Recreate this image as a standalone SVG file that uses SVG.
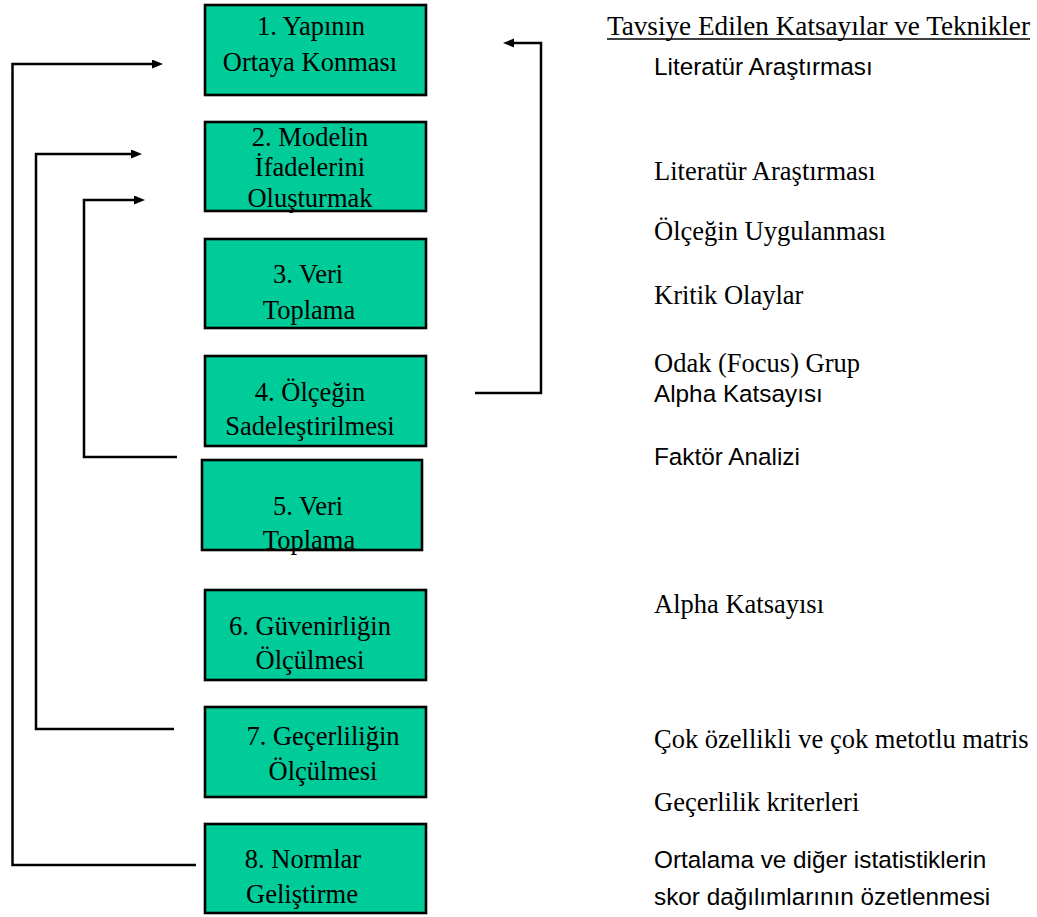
<svg xmlns="http://www.w3.org/2000/svg" width="1037" height="917" viewBox="0 0 1037 917">
<defs>
<style>
.box{fill:#00cc99;stroke:#000;stroke-width:2.6}
.bt{font-family:"Liberation Serif","Times New Roman",serif;font-size:26.5px;fill:#000;text-anchor:middle}
.rs{font-family:"Liberation Serif","Times New Roman",serif;font-size:26.5px;fill:#000}
.rc{font-family:"Liberation Sans",Arial,sans-serif;font-size:24.3px;fill:#000}
.con{fill:none;stroke:#000;stroke-width:2.5}
</style>
<marker id="arr" markerUnits="userSpaceOnUse" markerWidth="12" markerHeight="10" refX="5" refY="4.5" orient="auto">
<path d="M0,0 L11,4.5 L0,9 z" fill="#000"/>
</marker>
</defs>
<rect width="1037" height="917" fill="#fff"/>
<g id="connectors">
<polyline class="con" points="196,865 12.5,865 12.5,64 157,64" marker-end="url(#arr)"/>
<polyline class="con" points="174,729 36,729 36,154 136,154" marker-end="url(#arr)"/>
<polyline class="con" points="177,457 84,457 84,200 139,200" marker-end="url(#arr)"/>
<polyline class="con" points="475,393 541,393 541,43 509,43" marker-end="url(#arr)"/>
</g>
<g id="node1"><rect class="box" x="205" y="5" width="221" height="90"/>
<text class="bt" x="311" y="35">1. Yapının</text><text class="bt" x="310" y="71">Ortaya Konması</text></g>
<g id="node2"><rect class="box" x="205" y="122" width="221" height="89"/>
<text class="bt" x="310" y="146">2. Modelin</text><text class="bt" x="310" y="176">İfadelerini</text><text class="bt" x="310" y="207">Oluşturmak</text></g>
<g id="node3"><rect class="box" x="205" y="239" width="221" height="89"/>
<text class="bt" x="308" y="283">3. Veri</text><text class="bt" x="309" y="319">Toplama</text></g>
<g id="node4"><rect class="box" x="205" y="356" width="221" height="90"/>
<text class="bt" x="310" y="401">4. Ölçeğin</text><text class="bt" x="310" y="435">Sadeleştirilmesi</text></g>
<g id="node5"><rect class="box" x="202" y="460" width="220" height="90"/>
<text class="bt" x="308" y="515">5. Veri</text><text class="bt" x="309" y="549">Toplama</text></g>
<g id="node6"><rect class="box" x="205" y="590" width="221" height="90"/>
<text class="bt" x="310" y="635">6. Güvenirliğin</text><text class="bt" x="310" y="669">Ölçülmesi</text></g>
<g id="node7"><rect class="box" x="205" y="707" width="221" height="90"/>
<text class="bt" x="323" y="745">7. Geçerliliğin</text><text class="bt" x="323" y="780">Ölçülmesi</text></g>
<g id="node8"><rect class="box" x="205" y="824" width="221" height="89"/>
<text class="bt" x="303" y="868">8. Normlar</text><text class="bt" x="302" y="903">Geliştirme</text></g>
<g id="techniques">
<text class="rs" x="607" y="35" textLength="423" lengthAdjust="spacingAndGlyphs">Tavsiye Edilen Katsayılar ve Teknikler</text>
<line x1="607" y1="39" x2="1030" y2="39" stroke="#000" stroke-width="1.3"/>
<text class="rc" x="654" y="75">Literatür Araştırması</text>
<text class="rs" x="654" y="180">Literatür Araştırması</text>
<text class="rs" x="654" y="240">Ölçeğin Uygulanması</text>
<text class="rs" x="654" y="304">Kritik Olaylar</text>
<text class="rs" x="654" y="372">Odak (Focus) Grup</text>
<text class="rc" x="654" y="402">Alpha Katsayısı</text>
<text class="rc" x="654" y="465">Faktör Analizi</text>
<text class="rs" x="654" y="613">Alpha Katsayısı</text>
<text class="rs" x="654" y="748">Çok özellikli ve çok metotlu matris</text>
<text class="rs" x="654" y="811">Geçerlilik kriterleri</text>
<text class="rc" x="654" y="868">Ortalama ve diğer istatistiklerin</text>
<text class="rc" x="654" y="905">skor dağılımlarının özetlenmesi</text>
</g>
</svg>
